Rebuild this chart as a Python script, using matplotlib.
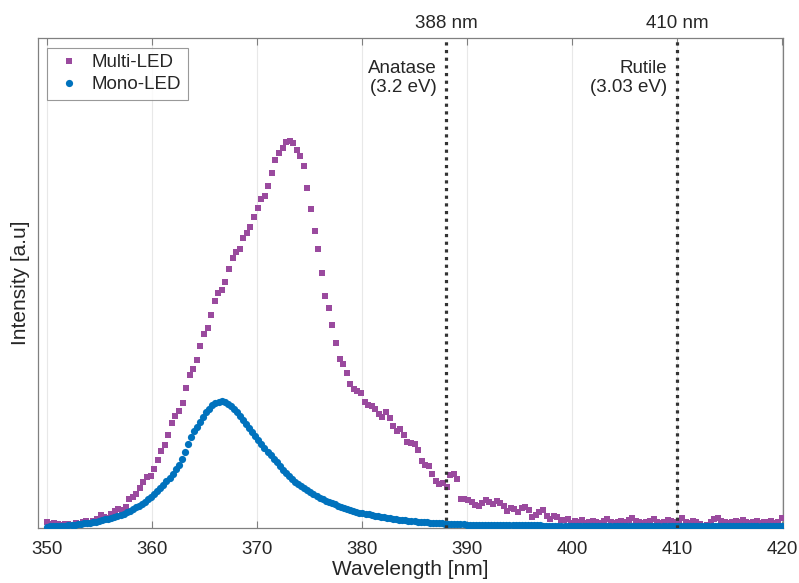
import numpy as np
import matplotlib
matplotlib.use("Agg")
import matplotlib.pyplot as plt
import matplotlib.transforms as mtransforms

plt.rcParams['font.family'] = ['Liberation Sans', 'DejaVu Sans']

# Multi-LED spectrum (arbitrary units), evenly sampled 350-420 nm
multi_led = [
    6, 4, 5, 4, 3, 4, 4, 3, 5, 4,
    6, 7, 5, 7, 9, 13, 11, 10, 14, 17,
    19, 18, 21, 29, 31, 34, 40, 46, 51, 52,
    59, 68, 77, 83, 93, 105, 112, 117, 125, 140,
    153, 159, 168, 182, 194, 200, 213, 227, 235, 238,
    246, 259, 270, 276, 279, 290, 295, 301, 311, 320,
    329, 332, 342, 355, 368, 375, 380, 386, 387, 385,
    378, 372, 362, 340, 319, 297, 279, 255, 232, 220,
    203, 185, 169, 164, 155, 144, 139, 137, 135, 126,
    123, 122, 119, 114, 111, 116, 110, 102, 97, 99,
    93, 86, 85, 84, 78, 67, 63, 62, 54, 47,
    44, 45, 41, 53, 54, 49, 29, 29, 28, 26,
    23, 22, 25, 28, 26, 24, 27, 25, 22, 17,
    20, 19, 16, 20, 21, 18, 11, 13, 16, 18,
    12, 9, 12, 11, 8, 8, 9, 5,
    7, 6, 8, 5, 6, 7, 6, 5, 7, 9,
    6, 5, 6, 7, 6, 8, 10, 7, 6, 5,
    6, 7, 9, 6, 5, 6, 8, 7, 6, 7,
    10, 6, 5, 7, 6, 4, 1, 3, 6, 9,
    10, 7, 6, 5, 6, 7, 6, 8, 6, 5,
    6, 7, 5, 6, 6, 7, 5, 6, 10,
]

# Mono-LED spectrum (arbitrary units), evenly sampled 350-420 nm
mono_led = [
    1.5, 1.6, 1.7, 1.8, 2.0, 2.2, 2.5, 2.8, 3.1, 3.5,
    4.0, 4.5, 4.9, 5.2, 5.5, 6.0, 6.5, 7.0, 7.8, 8.6,
    9.4, 10.3, 11.2, 12.2, 13.2, 14.5, 15.9, 17.3, 18.9, 20.6,
    22.5, 24.4, 26.5, 28.6, 31.0, 33.8, 36.8, 40.0, 43.4, 46.8,
    50.4, 54.4, 58.6, 63.0, 69.0, 76.5, 84.0, 91.5, 97.0, 101.5,
    106.0, 111.0, 116.0, 119.5, 123.0, 125.0, 126.5, 127.0, 126.2, 124.5,
    122.0, 119.5, 116.0, 112.0, 108.0, 104.5, 100.5, 96.0, 92.0, 88.0,
    84.5, 80.0, 76.0, 73.0, 69.5, 66.0, 62.0, 58.5, 55.0, 52.0,
    49.0, 46.5, 44.0, 42.0, 40.0, 38.0, 36.0, 34.5, 32.5, 30.5,
    29.0, 27.5, 26.0, 24.8, 23.6, 22.4, 21.2, 20.0, 18.9, 17.8,
    17.0, 16.2, 15.5, 14.8, 14.2, 13.6, 13.0, 12.4, 11.8, 11.2,
    10.7, 10.2, 9.8, 9.3, 8.9, 8.5, 8.1, 7.8, 7.4, 7.1,
    6.8, 6.5, 6.2, 6.0, 5.7, 5.5, 5.3, 5.1, 4.9, 4.7,
    4.5, 4.3, 4.2, 4.0, 3.9, 3.8, 3.6, 3.5, 3.4, 3.3,
    3.2, 3.1, 3.1, 3.0, 3.0, 3.0, 2.9, 2.9, 2.9, 2.8,
    2.8, 2.8, 2.8, 2.7, 2.7, 2.7, 2.7, 2.6, 2.6, 2.6,
    2.6, 2.6, 2.5, 2.5, 2.5, 2.5, 2.5, 2.4, 2.4, 2.4,
    2.4, 2.4, 2.4, 2.3, 2.3, 2.3, 2.3, 2.3, 2.3, 2.3,
    2.2, 2.2, 2.2, 2.2, 2.2, 2.2, 2.2, 2.2, 2.1, 2.1,
    2.1, 2.1, 2.1, 2.1, 2.1, 2.1, 2.1, 2.1, 2.0, 2.0,
    2.0, 2.0, 2.0, 2.0, 2.0, 2.0, 2.0, 2.0, 2.0, 2.0,
    1.9, 1.9, 1.9, 1.9, 1.9, 1.9, 1.9, 1.9, 1.9, 1.9,
    1.9, 1.9, 1.9, 1.9, 1.9, 1.9, 1.9, 1.9, 1.9, 1.9,
    1.9, 1.9, 1.9, 1.9, 1.9, 1.9, 1.9, 1.9, 1.9, 1.9,
    1.9,
]

wl_multi = np.linspace(350, 420, len(multi_led))
wl_mono = np.linspace(350, 420, len(mono_led))

band_edges = [388, 410]
band_labels = ['Anatase\n(3.2 eV)', 'Rutile\n(3.03 eV)']
xticks = [350, 360, 370, 380, 390, 400, 410, 420]

purple = '#9a4a9e'
blue = '#0072bd'
axis_grey = '#808080'
text_col = '#262626'

fig = plt.figure(figsize=(7.99, 5.83), dpi=100)
ax = fig.add_axes([0.0476, 0.0943, 0.9324, 0.8405])

ax.plot(wl_multi, multi_led, 's', color=purple, markersize=4.6,
        markeredgewidth=0, label='Multi-LED', zorder=3)
ax.plot(wl_mono, mono_led, 'o', color=blue, markersize=5.2,
        markeredgewidth=0, label='Mono-LED', zorder=4)

for x in band_edges:
    ax.axvline(x, color='#333333', lw=2.3, linestyle=(0, (1.0, 1.4)), zorder=5)

ax.set_xlim(349.14, 420.1)
ax.set_ylim(0, 490)
ax.set_xticks(xticks)
ax.set_yticks([])
ax.grid(axis='x', color='#e8e8e8', lw=0.8, zorder=0)
ax.set_axisbelow(True)

ax.tick_params(axis='x', direction='in', top=True, length=5, width=0.8,
               color=axis_grey, labelsize=13.5, labelcolor=text_col, pad=9)
for sp in ax.spines.values():
    sp.set_color(axis_grey)
    sp.set_linewidth(0.9)

ax.set_xlabel('Wavelength [nm]', fontsize=15, color=text_col, labelpad=2)
ax.set_ylabel('Intensity [a.u]', fontsize=15, color=text_col, labelpad=6)

trans = mtransforms.blended_transform_factory(ax.transData, ax.transAxes)
for x, lab in zip(band_edges, band_labels):
    ax.text(x, 1.012, f'{x} nm', transform=trans, ha='center', va='bottom',
            fontsize=13.5, color=text_col)
    ax.text(x - 0.9, 0.955, lab, transform=trans, ha='right', va='top',
            fontsize=13.5, color=text_col, linespacing=1.15,
            multialignment='right')

leg = ax.legend(loc='upper left', bbox_to_anchor=(0.012, 0.98), fontsize=13.5,
                frameon=True, fancybox=False, edgecolor=axis_grey,
                handlelength=1.7, handletextpad=0.35, borderpad=0.35,
                labelspacing=0.25, borderaxespad=0, markerscale=1.0)
leg.get_frame().set_linewidth(0.8)
for t in leg.get_texts():
    t.set_color(text_col)

fig.savefig('out.png', dpi=100)
